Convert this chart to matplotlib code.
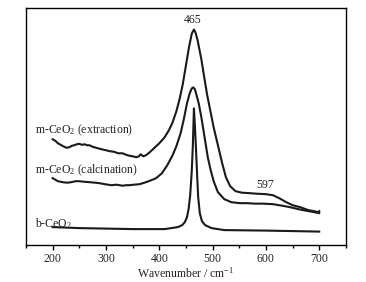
import matplotlib
matplotlib.use("Agg")
import matplotlib.pyplot as plt
from matplotlib.ticker import MultipleLocator

plt.rcParams['font.family'] = ['Liberation Serif', 'DejaVu Serif']
plt.rcParams['mathtext.fontset'] = 'custom'
plt.rcParams['mathtext.rm'] = 'Liberation Serif'
plt.rcParams['mathtext.default'] = 'regular'

# Raman spectra, intensity in arbitrary (offset) units
ext_x = [200, 205, 210, 215, 220, 226, 231, 236, 240, 245, 250, 255, 260, 265, 269,
         275, 285, 292, 300, 308, 315, 323, 331, 338, 344, 350, 357, 362, 365, 370,
         375, 382, 388, 394, 400, 410, 418, 425, 432, 438, 444, 450, 456, 461, 465,
         468, 472, 479, 485, 490, 496, 502, 510, 518, 525, 533, 543, 555, 570, 582,
         600, 613, 625, 638, 650, 664, 680, 690, 698, 700]
ext_y = [106, 104.5, 102, 100.5, 99, 97.5, 98, 99.5, 100, 101, 101.5, 100.5, 101, 100, 100,
         98.5, 97, 96, 95, 94, 93.5, 92, 92, 90.5, 89.5, 89, 88, 89, 91, 89,
         90, 93, 96, 99, 102, 108, 115, 123, 134, 146, 161, 180, 199, 212, 216,
         213, 205, 186, 166, 150, 134, 118, 100, 82, 68, 59, 54, 52.5, 52, 51.5,
         51, 50, 47, 43, 40, 38, 35, 34, 33, 34]

cal_x = [200, 205, 210, 219, 227, 235, 243, 250, 258, 270, 280, 288, 298, 310, 320,
         331, 338, 344, 352, 363, 375, 385, 394, 405, 415, 425, 432, 440, 446, 452,
         457, 461, 464, 467, 470, 474, 479, 485, 491, 496, 502, 510, 522, 535, 551,
         565, 580, 595, 613, 630, 645, 665, 685, 700]
cal_y = [67, 65.5, 64, 63, 62.5, 63, 64, 64, 63.5, 63, 62.5, 62, 61, 60, 60.5,
         59.5, 60, 60, 60.5, 61, 63, 65, 67, 72, 80, 90, 99, 112, 126, 142,
         152, 157, 158, 156, 150, 142, 128, 108, 88, 76, 64, 53, 46, 43, 42,
         42, 41.5, 41.5, 41, 39.5, 38, 35.5, 33.5, 32]

bulk_x = [200, 250, 300, 350, 410, 435, 443, 448, 452, 455, 458, 461, 463, 465,
          467, 469, 471, 473, 476, 480, 486, 498, 522, 600, 700]
bulk_y = [18, 17, 16.5, 16, 16, 18, 20, 23, 28, 36, 50, 75, 100, 137,
          118, 95, 70, 48, 32, 24, 20, 17, 15, 14.5, 13.5]

labels = ['m-CeO$_2$ (extraction)', 'm-CeO$_2$ (calcination)', 'b-CeO$_2$']
label_y = [115, 75, 22]
peak_labels = ['465', '597']
peak_pos = [(463, 226), (598, 60)]

fig = plt.figure(figsize=(3.66, 2.82), dpi=100)
ax = fig.add_axes([0.071, 0.131, 0.874, 0.842])

for xs, ys in [(ext_x, ext_y), (cal_x, cal_y), (bulk_x, bulk_y)]:
    ax.plot(xs, ys, color='#1a1a1a', lw=1.5)

for txt, yy in zip(labels, label_y):
    ax.text(166, yy, txt, fontsize=8.5, ha='left', va='center', color='#222222')
for txt, (xx, yy) in zip(peak_labels, peak_pos):
    ax.text(xx, yy, txt, fontsize=8.5, ha='center', va='center', color='#222222')

ax.set_xlim(150, 750)
ax.set_ylim(0, 238)
ax.set_yticks([])
ax.xaxis.set_major_locator(MultipleLocator(100))
ax.xaxis.set_minor_locator(MultipleLocator(50))
ax.tick_params(axis='x', which='major', direction='out', length=3.5, width=1,
               labelsize=8.5, pad=2, labelcolor='#222222')
ax.tick_params(axis='x', which='minor', direction='out', length=2, width=1)
ax.set_xlabel('Wavenumber / cm$^{-1}$', fontsize=8.5, labelpad=1, color='#222222')
for s in ax.spines.values():
    s.set_linewidth(1.0)

fig.savefig('out.png', dpi=100)
